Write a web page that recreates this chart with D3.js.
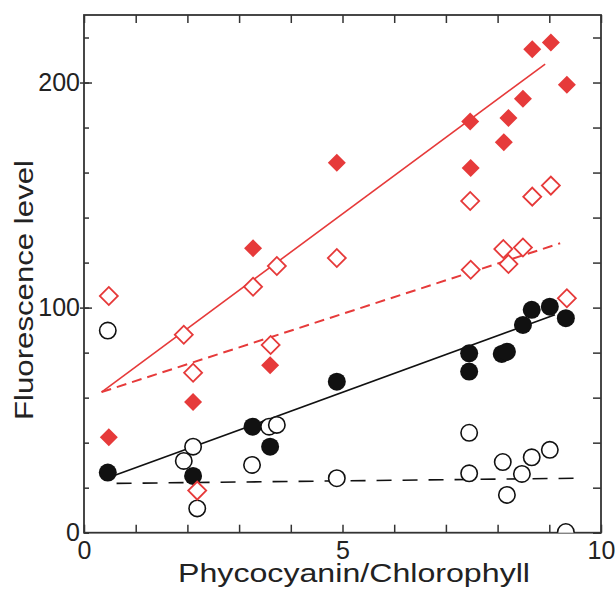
<!DOCTYPE html>
<html>
<head>
<meta charset="utf-8">
<script src="https://cdn.jsdelivr.net/npm/d3@7"></script>
<style>
  body { margin: 0; background: #fff; }
  svg { display: block; font-family: "Liberation Sans", Arial, sans-serif; }
  .tick line { stroke: #333; stroke-width: 1.5; }
  .tick text { fill: #222; font-size: 25px; }
</style>
</head>
<body>
<div id="chart"></div>
<script>
// Fluorescence vs phycocyanin/chlorophyll ratio

var X_TICKS = [0, 1, 2, 3, 4, 5, 6, 7, 8, 9, 10];
var X_LABELS = [0, 5, 10];
var Y_TICKS = [0, 20, 40, 60, 80, 100, 120, 140, 160, 180, 200, 220];
var Y_LABELS = [0, 100, 200];

// red filled diamonds
var fdX = [0.48, 2.11, 3.27, 3.60, 4.89, 7.47, 7.48, 8.12, 8.21, 8.49, 8.67, 9.03, 9.34];
var fdY = [42.4, 58.1, 126.4, 74.4, 164.4, 182.7, 162.0, 173.5, 184.2, 192.8, 214.8, 217.8, 199.0];
// red open diamonds
var odX = [0.48, 1.93, 2.11, 2.19, 3.27, 3.61, 3.73, 4.89, 7.47, 7.48, 8.11, 8.21, 8.49, 8.67, 9.03, 9.34];
var odY = [105.2, 87.9, 71.1, 18.7, 109.3, 83.4, 118.5, 122.0, 147.4, 116.8, 126.0, 119.4, 126.7, 149.3, 154.2, 104.2];
// black filled circles
var fcX = [0.46, 2.11, 3.26, 3.60, 4.89, 7.45, 7.45, 8.08, 8.18, 8.49, 8.66, 9.01, 9.32];
var fcY = [26.7, 25.2, 47.1, 38.2, 67.1, 79.7, 71.6, 79.4, 80.4, 92.3, 99.0, 100.4, 95.3];
// black open circles
var ocX = [0.46, 1.93, 2.11, 2.19, 3.25, 3.58, 3.73, 4.89, 7.45, 7.45, 8.10, 8.18, 8.47, 8.66, 9.01, 9.32];
var ocY = [89.8, 31.9, 38.2, 10.8, 30.1, 47.1, 47.9, 24.2, 44.4, 26.4, 31.4, 16.8, 26.1, 33.5, 36.8, 0.3];

// regression lines, [x, y] endpoints
var fitRedSolid = [[0.34, 62.5], [8.92, 208.2]];
var fitRedDash = [[0.34, 62.5], [9.21, 128.6]];
var fitBlackSolid = [[0.61, 25.6], [9.11, 96.8]];
var fitBlackDash = [[0.63, 21.9], [9.53, 24.2]];

var RED = "#e63a3a";
var W = 615, H = 591;
var L = 84, R = 601, T = 15, B = 532.7;

var svg = d3.select("#chart").append("svg")
  .attr("width", W)
  .attr("height", H);

var x = d3.scaleLinear().domain([0, 10]).range([L, R]);
var y = d3.scaleLinear().domain([0, 230]).range([B, T]);

svg.append("clipPath").attr("id", "plot")
  .append("rect")
  .attr("x", L).attr("y", T)
  .attr("width", R - L).attr("height", B - T);

// axes (ticks point inward)
function noLabel() { return ""; }

var gx = svg.append("g").attr("transform", "translate(0," + B + ")")
  .call(d3.axisBottom(x).tickValues(X_TICKS).tickSize(-8).tickPadding(9)
    .tickFormat(function(d) { return X_LABELS.indexOf(d) >= 0 ? d : ""; }));
svg.append("g").attr("transform", "translate(0," + T + ")")
  .call(d3.axisTop(x).tickValues(X_TICKS).tickSize(-8).tickFormat(noLabel));
var gy = svg.append("g").attr("transform", "translate(" + L + ",0)")
  .call(d3.axisLeft(y).tickValues(Y_TICKS).tickSize(-5).tickPadding(4)
    .tickFormat(function(d) { return Y_LABELS.indexOf(d) >= 0 ? d : ""; }));
svg.append("g").attr("transform", "translate(" + L + ",0)")
  .call(d3.axisLeft(y).tickValues(Y_LABELS.slice(1)).tickSize(4).tickFormat(noLabel));
svg.append("g").attr("transform", "translate(" + L + ",0)")
  .call(d3.axisLeft(y).tickValues(Y_LABELS.slice(1)).tickSize(-8).tickFormat(noLabel));
svg.append("g").attr("transform", "translate(" + R + ",0)")
  .call(d3.axisRight(y).tickValues(Y_TICKS).tickSize(-8).tickFormat(noLabel));

svg.selectAll(".domain").remove();
gx.selectAll("text").attr("font-family", null).attr("font-size", null);
gy.selectAll("text").attr("font-family", null).attr("font-size", null);

svg.append("rect")
  .attr("x", L).attr("y", T)
  .attr("width", R - L).attr("height", B - T)
  .attr("fill", "none")
  .attr("stroke", "#333")
  .attr("stroke-width", 1.8);

// fit lines
var line = d3.line().x(function(d) { return x(d[0]); }).y(function(d) { return y(d[1]); });
var fits = [
  {d: fitRedSolid, c: RED, dash: null, w: 1.6},
  {d: fitRedDash, c: RED, dash: "10,6", w: 2},
  {d: fitBlackSolid, c: "#111", dash: null, w: 1.6},
  {d: fitBlackDash, c: "#111", dash: "15,11", w: 1.6}
];
svg.append("g").selectAll("path")
  .data(fits)
  .enter().append("path")
  .attr("d", function(d) { return line(d.d); })
  .attr("fill", "none")
  .attr("stroke", function(d) { return d.c; })
  .attr("stroke-width", function(d) { return d.w; })
  .attr("stroke-dasharray", function(d) { return d.dash; });

// markers
var marks = svg.append("g").attr("clip-path", "url(#plot)");

function zip(xs, ys) { return xs.map(function(v, i) { return [v, ys[i]]; }); }

marks.selectAll("circle.fc")
  .data(zip(fcX, fcY))
  .enter().append("circle")
  .attr("class", "fc")
  .attr("cx", function(d) { return x(d[0]); })
  .attr("cy", function(d) { return y(d[1]); })
  .attr("r", 9)
  .attr("fill", "#111");

marks.selectAll("circle.oc")
  .data(zip(ocX, ocY))
  .enter().append("circle")
  .attr("class", "oc")
  .attr("cx", function(d) { return x(d[0]); })
  .attr("cy", function(d) { return y(d[1]); })
  .attr("r", 8.2)
  .attr("fill", "#fff")
  .attr("stroke", "#111")
  .attr("stroke-width", 1.6);

var diamond = d3.symbol().type(d3.symbolSquare);

marks.selectAll("path.fd")
  .data(zip(fdX, fdY))
  .enter().append("path")
  .attr("class", "fd")
  .attr("d", diamond.size(162))
  .attr("transform", function(d) { return "translate(" + x(d[0]) + "," + y(d[1]) + ") rotate(45)"; })
  .attr("fill", RED);

marks.selectAll("path.od")
  .data(zip(odX, odY))
  .enter().append("path")
  .attr("class", "od")
  .attr("d", diamond.size(162))
  .attr("transform", function(d) { return "translate(" + x(d[0]) + "," + y(d[1]) + ") rotate(45)"; })
  .attr("fill", "#fff")
  .attr("stroke", RED)
  .attr("stroke-width", 1.8);

// titles
svg.append("text")
  .attr("x", 178)
  .attr("y", 582)
  .attr("font-size", 26)
  .attr("textLength", 352)
  .attr("lengthAdjust", "spacingAndGlyphs")
  .attr("fill", "#222")
  .text("Phycocyanin/Chlorophyll");

svg.append("text")
  .attr("transform", "translate(33,420) rotate(-90)")
  .attr("font-size", 26)
  .attr("textLength", 260)
  .attr("lengthAdjust", "spacingAndGlyphs")
  .attr("fill", "#222")
  .text("Fluorescence level");
</script>
</body>
</html>
